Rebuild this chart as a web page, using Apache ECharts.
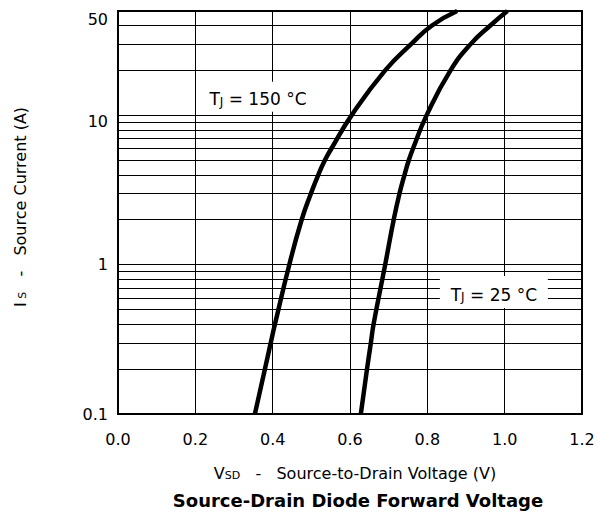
<!DOCTYPE html>
<html><head><meta charset="utf-8">
<script src="https://cdn.jsdelivr.net/npm/echarts@6/dist/echarts.min.js"></script>
<style>html,body{margin:0;padding:0;background:#fff}#c{width:598px;height:517px}</style>
</head><body><div id="c"></div>
<script>
// ---- data ----
const xTickValues = [0, 0.2, 0.4, 0.6, 0.8, 1.0, 1.2];
const yTickLabels = [0.1, 1, 10, 50];
const yGridValues = [0.2,0.3,0.4,0.5,0.6,0.7,0.8,0.9,1,2,3,4,5,6,7,8,9,10,20,30,40];
const current150 = [0.1, 0.2, 0.3, 0.4, 1, 2, 3, 4, 5, 6, 10, 20, 30, 40, 50];
const voltage150 = [0.354, 0.380, 0.395, 0.406, 0.443, 0.475, 0.499, 0.518, 0.535, 0.552, 0.604, 0.691, 0.758, 0.812, 0.877];
const current25 = [0.1, 0.2, 0.3, 0.4, 1, 2, 3, 4, 5, 6, 10, 20, 30, 40, 50];
const voltage25 = [0.628, 0.644, 0.654, 0.661, 0.691, 0.713, 0.728, 0.741, 0.752, 0.763, 0.798, 0.860, 0.912, 0.963, 1.007];

const FONT = "'DejaVu Sans', 'Liberation Sans', Arial, sans-serif";
const chart = echarts.init(document.getElementById('c'), null, {renderer: 'svg'});
function richSet(size, subSize){
  return {
    base: {fontFamily: FONT, fontSize: size, color: '#000', lineHeight: 22, verticalAlign: 'bottom'},
    sub: {fontFamily: FONT, fontSize: subSize, color: '#000', lineHeight: 14, verticalAlign: 'bottom'}
  };
}
function pair(xs, ys){ return xs.map((v,i)=>[v, ys[i]]); }

chart.setOption({
  animation: false,
  backgroundColor: '#fff',
  textStyle: {fontFamily: FONT},
  grid: {left: 118, right: 16, top: 11, bottom: 103, show: true, borderColor: '#000', borderWidth: 2, backgroundColor: 'transparent'},
  xAxis: {
    type: 'value', min: 0, max: 1.2, interval: 0.2,
    axisLine: {show: true, lineStyle: {color: '#000', width: 2}},
    axisTick: {show: false},
    axisLabel: {color: '#000', fontSize: 16, fontFamily: FONT, margin: 17, formatter: v => (+v).toFixed(1)},
    splitLine: {show: true, lineStyle: {color: '#000', width: 1}},
    name: '{base|V}{sub|SD}{base|   -   Source-to-Drain Voltage (V)}',
    nameLocation: 'middle', nameGap: 45,
    nameTextStyle: {padding: [0, 0, 0, 10], rich: richSet(16, 11)}
  },
  yAxis: {
    type: 'log', logBase: 10, min: 0.1, max: 50,
    axisLine: {show: true, lineStyle: {color: '#000', width: 2}},
    axisTick: {show: false},
    splitLine: {show: false},
    axisLabel: {color: '#000', fontSize: 16, fontFamily: FONT, margin: 10, customValues: yTickLabels,
      formatter: v => {
        const s = String(+(+v).toPrecision(3));
        if (s === '50') return '{p16|' + s + '}';
        if (s === '10') return '{p12|' + s + '}';
        return s;
      },
      rich: {
        p16: {fontFamily: FONT, fontSize: 16, color: '#000', padding: [16, 0, 0, 0]},
        p12: {fontFamily: FONT, fontSize: 16, color: '#000', padding: [12, 0, 0, 0]}
      }
    },
    name: '{base|I}{sub| S}{base|   -   Source Current (A)}',
    nameLocation: 'middle', nameGap: 90, nameRotate: 90,
    nameTextStyle: {padding: [0, 0, 0, 11], rich: richSet(16, 11)}
  },
  graphic: [{
    type: 'text', x: 358, y: 500,
    style: {text: 'Source-Drain Diode Forward Voltage', font: 'bold 18px ' + FONT, fill: '#000', align: 'center', verticalAlign: 'middle'}
  }],
  series: [
    {
      type: 'line', data: [], z: 1, silent: true,
      markLine: {
        z: 1, silent: true, symbol: ['none','none'], animation: false,
        label: {show: false},
        lineStyle: {color: '#000', width: 1, type: 'solid'},
        emphasis: {disabled: true},
        data: yGridValues.map(v => ({yAxis: v}))
      }
    },
    {
      name: 'TJ150', type: 'line', data: pair(voltage150, current150), z: 3,
      showSymbol: false, smooth: 0.5,
      lineStyle: {color: '#000', width: 4.5}, itemStyle: {color: '#000'},
      markPoint: {
        z: 10, silent: true, symbol: 'rect', symbolSize: [102, 30],
        itemStyle: {color: '#fff'},
        label: {show: true, position: 'inside', formatter: '{base|T}{sub|J}{base| = 150 °C}', rich: richSet(17, 12)},
        data: [{coord: [0.362, 13.3], value: 0}]
      }
    },
    {
      name: 'TJ25', type: 'line', data: pair(voltage25, current25), z: 3,
      showSymbol: false, smooth: 0.5,
      lineStyle: {color: '#000', width: 4.5}, itemStyle: {color: '#000'},
      markPoint: {
        z: 10, silent: true, symbol: 'rect', symbolSize: [108, 32],
        itemStyle: {color: '#fff'},
        label: {show: true, position: 'inside', formatter: '{base|T}{sub|J}{base| = 25 °C}', rich: richSet(17, 12)},
        data: [{coord: [0.972, 0.656], value: 0}]
      }
    }
  ]
});
</script></body></html>
